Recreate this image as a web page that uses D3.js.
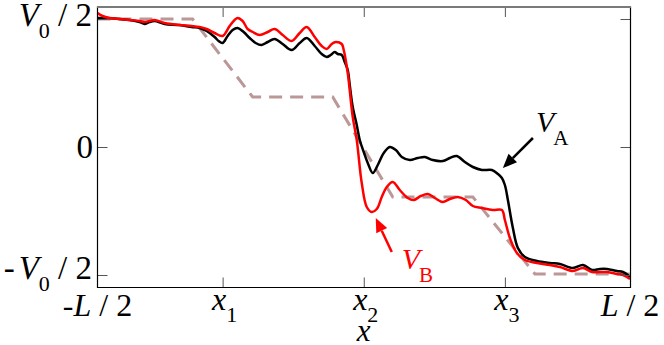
<!DOCTYPE html>
<html><head><meta charset="utf-8">
<script src="https://cdn.jsdelivr.net/npm/d3@7"></script>
<style>
body{margin:0;background:#fff}
svg{display:block}
text{font-family:"Liberation Serif","Times New Roman",serif;fill:#000}
</style>
</head><body>
<svg id="c" width="664" height="345"></svg>
<script>
// ---- data (x in grid units, L = 532; y with V0/2 = 128) ----
const xDomain = [-266, 266];
const yDomain = [-141, 140];
const xTickValues = [-141, 0, 141];
const xTickSubs = ["1", "2", "3"];
const yTickValues = [128, 0, -128];

const stepX = [-266, -171, -111, -31, 29, 109, 171, 266];
const stepY = [128, 128, 50, 50, -50, -50, -127, -127];

const vaX = [-266,-257,-244,-234,-224,-219,-214,-209,-199,-184,-172,-164,-157,-149,-145,-141,-136,-131,-126,-120,-114,-108,-102,-96,-89,-81,-72,-64,-57,-49,-42,-37,-33,-29,-26,-22,-19,-16,-14,-11,-7,-4,0,4,9,14,20,26,32,38,46,54,61,69,79,86,93,101,109,118,128,134,138,141,144,149,154,161,173,186,196,209,219,228,236,243,253,259,266];
const vaY = [129,129,128,127,125,123,125,126,123,122,120,119,116,110,106,104,111,117,119,115,109,104,102,105,108,103,97,104,109,101,93,90,92,95,93,92,85,77,62,40,22,7,-5,-16,-26,-18,-6,0,-3,-10,-13,-11,-10,-13,-14,-11,-9,-15,-20,-23,-23,-27,-31,-38,-53,-81,-101,-110,-114,-116,-117,-121,-118,-123,-122,-122,-124,-125,-130];

const vbX = [-266,-261,-254,-244,-234,-224,-219,-214,-209,-199,-184,-172,-164,-157,-149,-141,-134,-129,-126,-121,-116,-111,-104,-96,-89,-81,-72,-64,-57,-49,-42,-37,-32,-28,-22,-20,-16,-11,-7,-2,3,8,13,18,23,29,36,44,50,57,64,71,79,86,94,102,109,118,129,138,141,146,153,161,173,186,196,209,219,228,243,253,259,266];
const vbY = [134,131,129,128,127,126,125,126,127,124,122,121,120,118,114,111,121,127,129,126,118,115,112,115,118,112,106,114,120,110,101,98,103,105,103,97,74,30,7,-36,-60,-65,-62,-50,-40,-35,-43,-51,-53,-49,-47,-51,-55,-52,-50,-53,-59,-61,-63,-63,-73,-91,-106,-113,-116,-118,-120,-124,-121,-125,-125,-127,-128,-132];

// annotation anchors (data coords)
const arrowA = {tail: [169, 9], tip: [139, -21]};
const arrowB = {tail: [28, -105], tip: [12, -71]};
const labelA = [172, 15];
const labelB = [38, -122];

// ---- drawing ----
const svg = d3.select("#c");
const L = 97.5, R = 630.5, T = 7, B = 287.5;
const x = d3.scaleLinear().domain(xDomain).range([L, R - 0.5]);
const y = d3.scaleLinear().domain(yDomain).range([B + 0.5, T]);

// step (dashed) curve
const zip = (a, b) => a.map((v, i) => [v, b[i]]);
const line = d3.line().x(d => x(d[0])).y(d => y(d[1]));
svg.append("path").datum(zip(stepX, stepY))
  .attr("d", line).attr("fill", "none")
  .attr("stroke", "#bb9797").attr("stroke-width", 3)
  .attr("stroke-dasharray", "13,8");

const smooth = d3.line().x(d => x(d[0])).y(d => y(d[1])).curve(d3.curveCatmullRom.alpha(0.5));
svg.append("path").datum(zip(vaX, vaY))
  .attr("d", smooth).attr("fill", "none").attr("stroke", "#000").attr("stroke-width", 2.5)
  .attr("stroke-linejoin", "round");
svg.append("path").datum(zip(vbX, vbY))
  .attr("d", smooth).attr("fill", "none").attr("stroke", "#ff0000").attr("stroke-width", 2.5)
  .attr("stroke-linejoin", "round");

// axes (inward ticks, no labels)
const tk = 10;
svg.append("g").attr("transform", `translate(0,${B})`)
  .call(d3.axisBottom(x).tickValues(xTickValues).tickSizeInner(-tk).tickSizeOuter(0).tickFormat(""));
svg.append("g").attr("transform", `translate(0,${T})`)
  .call(d3.axisTop(x).tickValues(xTickValues).tickSizeInner(-tk).tickSizeOuter(0).tickFormat(""));
svg.append("g").attr("transform", `translate(${L},0)`)
  .call(d3.axisLeft(y).tickValues(yTickValues).tickSizeInner(-tk).tickSizeOuter(0).tickFormat(""));
svg.append("g").attr("transform", `translate(${R},0)`)
  .call(d3.axisRight(y).tickValues(yTickValues).tickSizeInner(-tk).tickSizeOuter(0).tickFormat(""));
svg.selectAll(".domain").remove();
svg.selectAll(".tick line").attr("stroke", "#555").attr("stroke-width", 1);
// frame: left/right/bottom black, top grey
svg.append("path").attr("d", `M${L},${T}V${B}H${R}V${T}`)
  .attr("fill", "none").attr("stroke", "#000").attr("stroke-width", 1.2);
svg.append("line").attr("x1", L - 0.6).attr("x2", R + 0.6).attr("y1", T).attr("y2", T)
  .attr("stroke", "#7a7a7a").attr("stroke-width", 2);

// y tick labels
function vLabel(g, xx, yy, prefix, anchor) {
  const t = g.append("text").attr("x", xx).attr("y", yy).attr("font-size", 33).attr("text-anchor", anchor);
  if (prefix) t.append("tspan").text(prefix);
  t.append("tspan").attr("font-style", "italic").attr("dx", prefix ? 4 : 0).text("V");
  t.append("tspan").attr("font-size", 22).attr("dy", 12).text("0");
  t.append("tspan").attr("dy", -12).text("\u00a0/\u00a02");
}
vLabel(svg, 92, y(128) + 7, null, "end");
svg.append("text").attr("x", 93).attr("y", y(0) + 11).attr("font-size", 33).attr("text-anchor", "end").text("0");
vLabel(svg, 92, y(-128) + 4, "-", "end");

// x tick labels
xTickValues.forEach((v, i) => {
  const t = svg.append("text").attr("x", x(v) + 2).attr("y", 310).attr("font-size", 32).attr("text-anchor", "middle");
  t.append("tspan").attr("font-style", "italic").text("x");
  t.append("tspan").attr("font-size", 22).attr("dy", 12).text(xTickSubs[i]);
});
svg.append("text").attr("x", x(xDomain[0])).attr("y", 316).attr("font-size", 32).attr("text-anchor", "middle")
  .call(t => { t.append("tspan").text("-"); t.append("tspan").attr("font-style", "italic").text("L"); t.append("tspan").text("\u00a0/\u00a02"); });
svg.append("text").attr("x", x(xDomain[1])).attr("y", 316).attr("font-size", 32).attr("text-anchor", "middle")
  .call(t => { t.append("tspan").attr("font-style", "italic").text("L"); t.append("tspan").text("\u00a0/\u00a02"); });
svg.append("text").attr("x", x(0)).attr("y", 341).attr("font-size", 31).attr("text-anchor", "middle")
  .attr("font-style", "italic").text("x");

// annotations
function arrow(a, color) {
  const [x1, y1] = [x(a.tail[0]), y(a.tail[1])];
  const [x2, y2] = [x(a.tip[0]), y(a.tip[1])];
  const ang = Math.atan2(y2 - y1, x2 - x1);
  const hl = 14, hw = 6;
  const bx = x2 - hl * Math.cos(ang), by = y2 - hl * Math.sin(ang);
  svg.append("line").attr("x1", x1).attr("y1", y1).attr("x2", bx).attr("y2", by)
    .attr("stroke", color).attr("stroke-width", 2.5);
  const px = -Math.sin(ang) * hw, py = Math.cos(ang) * hw;
  svg.append("path").attr("d", `M${x2},${y2}L${bx + px},${by + py}L${bx - px},${by - py}Z`).attr("fill", color);
}
arrow(arrowA, "#000");
arrow(arrowB, "#ff0000");

svg.append("text").attr("x", x(labelA[0])).attr("y", y(labelA[1])).attr("font-size", 30)
  .call(t => { t.append("tspan").attr("font-style", "italic").text("V"); t.append("tspan").attr("font-size", 21).attr("dy", 13).attr("dx", -1).text("A"); });
svg.append("text").attr("x", x(labelB[0])).attr("y", y(labelB[1])).attr("font-size", 30).style("fill", "#ff0000")
  .call(t => { t.append("tspan").attr("font-style", "italic").text("V"); t.append("tspan").attr("font-size", 21).attr("dy", 13).attr("dx", -1).text("B"); });
</script>
</body></html>
